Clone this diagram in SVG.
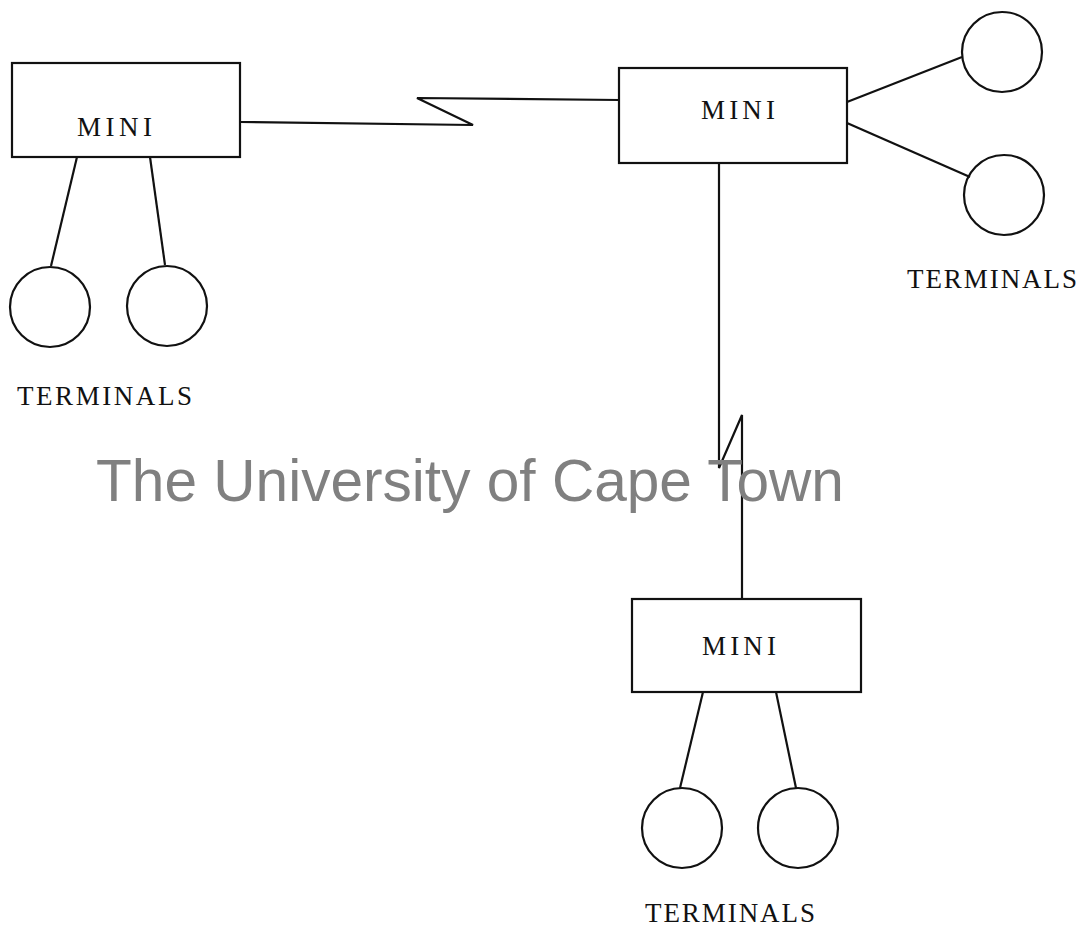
<svg xmlns="http://www.w3.org/2000/svg" width="1092" height="928" viewBox="0 0 1092 928">
<style>
.box{fill:none;stroke:#111;stroke-width:2.2}
.term{fill:none;stroke:#111;stroke-width:2.2}
.ln{fill:none;stroke:#111;stroke-width:2.2;stroke-linejoin:miter}
.lbl{font-family:"Liberation Serif","Times New Roman",serif;font-size:27px;fill:#111}
.wm{font-family:"Liberation Sans",Arial,sans-serif;font-size:58.6px;fill:#808080}
</style>
<rect width="1092" height="928" fill="#fff"/>
<g id="connectors">
<polyline class="ln" points="240,122 473,125 417,98 620,100"/>
<polyline class="ln" points="719,163 719,468 742,415 742,599"/>
<line class="ln" x1="77" y1="157" x2="51" y2="266"/>
<line class="ln" x1="150" y1="157" x2="165" y2="265"/>
<line class="ln" x1="847" y1="102" x2="962" y2="57"/>
<line class="ln" x1="847" y1="123" x2="970" y2="177"/>
<line class="ln" x1="703" y1="692" x2="680" y2="788"/>
<line class="ln" x1="776" y1="692" x2="796" y2="788"/>
</g>
<g id="mini1">
<rect class="box" x="12" y="63" width="228" height="94"/>
<text class="lbl" x="77" y="136" textLength="75" lengthAdjust="spacing">MINI</text>
</g>
<g id="mini2">
<rect class="box" x="619" y="68" width="228" height="95"/>
<text class="lbl" x="701" y="119" textLength="74" lengthAdjust="spacing">MINI</text>
</g>
<g id="mini3">
<rect class="box" x="632" y="599" width="229" height="93"/>
<text class="lbl" x="702" y="655" textLength="74" lengthAdjust="spacing">MINI</text>
</g>
<g id="terminals1">
<circle class="term" cx="50" cy="307" r="40"/>
<circle class="term" cx="167" cy="306" r="40"/>
<text class="lbl" x="17" y="405" textLength="175" lengthAdjust="spacing">TERMINALS</text>
</g>
<g id="terminals2">
<circle class="term" cx="1002" cy="52" r="40"/>
<circle class="term" cx="1004" cy="195" r="40"/>
<text class="lbl" x="907" y="288" textLength="170" lengthAdjust="spacing">TERMINALS</text>
</g>
<g id="terminals3">
<circle class="term" cx="682" cy="828" r="40"/>
<circle class="term" cx="798" cy="828" r="40"/>
<text class="lbl" x="645" y="922" textLength="170" lengthAdjust="spacing">TERMINALS</text>
</g>
<text class="wm" x="96" y="501">The University of Cape Town</text>
</svg>
